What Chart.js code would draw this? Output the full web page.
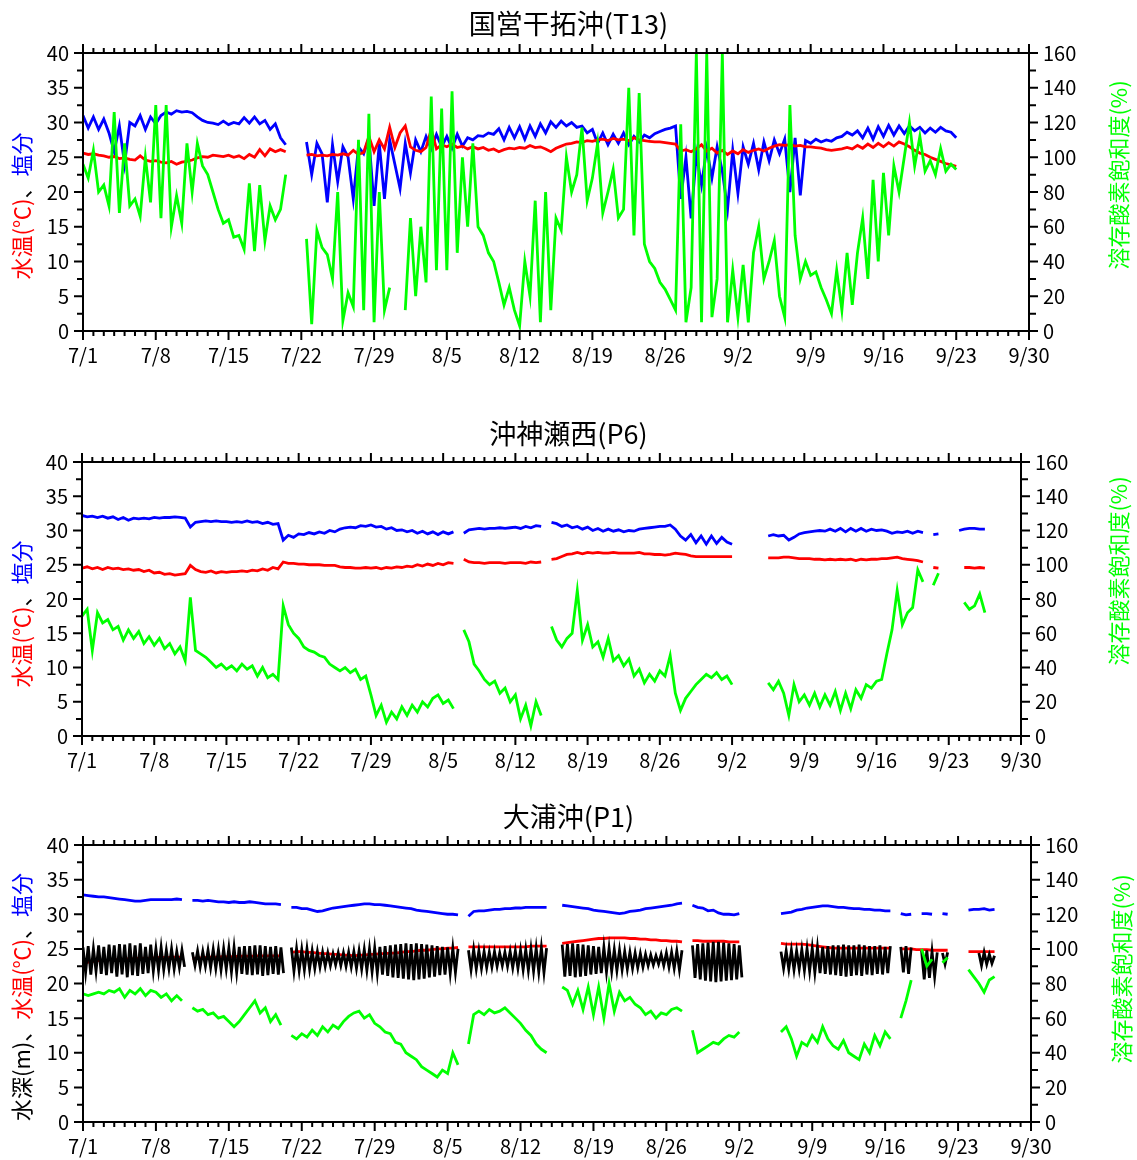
<!DOCTYPE html>
<html>
<head>
<meta charset="utf-8">
<script src="https://cdn.jsdelivr.net/npm/chart.js@4.4.0/dist/chart.umd.min.js"></script>
<style>
  body { margin: 0; background: #fff; }
  canvas { position: absolute; left: 0; }
</style>
</head>
<body>
<canvas id="chart_t13" width="1137" height="390" style="top:0px"></canvas>
<canvas id="chart_p6" width="1137" height="380" style="top:400px"></canvas>
<canvas id="chart_p1" width="1137" height="380" style="top:780px"></canvas>
<script>
// x axis: days since 7/1
const dateLabels = ['7/1','7/8','7/15','7/22','7/29','8/5','8/12','8/19','8/26','9/2','9/9','9/16','9/23','9/30'];
const halfDay = 0.5;
const quarterDay = 0.25;

// ---- 国営干拓沖(T13), one value every half day from 7/1 ----
const t13Temp = [
  25.6, 25.4, 25.5, 25.3, 25.2, 25.0, 25.1, 24.8, 24.9, 24.7,
  24.6, 25.2, 24.6, 24.4, 24.5, 24.3, 24.2, 24.4, 24.0, 24.3,
  24.4, 24.6, 24.9, 25.1, 25.0, 25.3, 25.2, 25.1, 25.3, 25.0,
  25.2, 24.8, 25.4, 25.0, 26.1, 25.2, 26.2, 25.8, 26.1, 25.8,
  null, null, null, 25.3, 25.4, 25.2, 25.3, 25.2, 25.4, 25.3,
  25.5, 25.3, 26.0, 25.4, 25.7, 28.0, 25.8, 27.5, 26.2, 29.3,
  26.4, 28.5, 29.5, 26.5, 26.0, 25.8, 26.4, 29.0, 26.2, 26.8,
  26.5, 26.9, 26.4, 26.6, 26.2, 26.5, 26.2, 26.4, 26.0, 26.2,
  25.8, 26.1, 26.3, 26.2, 26.4, 26.3, 26.7, 26.4, 26.5, 26.2,
  25.8, 26.3, 26.6, 26.9, 27.0, 27.2, 27.1, 27.4, 27.3, 27.5,
  27.6, 27.4, 27.7, 27.5, 27.6, 27.4, 27.8, 27.5, 27.4, 27.3,
  27.2, 27.2, 27.1, 27.0, 26.9, 25.9, 26.1, 25.8, 26.2, 26.8,
  25.9, 26.3, 25.6, 26.0, 25.4, 25.9, 25.5, 26.1, 25.7, 26.0,
  26.2, 25.9, 26.3, 26.6, 26.8, 26.7, 26.8, 26.6, 26.7, 26.5,
  26.5, 26.4, 26.3, 26.1, 26.0, 26.1, 26.2, 26.4, 26.2, 26.7,
  26.3, 26.9, 26.4, 27.0, 26.5, 27.1, 26.6, 27.2, 26.9, 26.5,
  26.0, 25.6, 25.4, 25.0, 24.7, 24.4, 24.1, 23.9, 23.7
];
const t13Sal = [
  31.0, 29.2, 30.8, 29.0, 30.5, 28.5, 25.8, 29.5, 24.0, 30.0,
  29.5, 31.0, 29.0, 30.8, 29.8, 31.0, 31.5, 31.2, 31.7, 31.5,
  31.6, 31.4, 30.8, 30.3, 30.0, 29.9, 29.7, 30.2, 29.7, 30.0,
  29.8, 30.7, 29.9, 30.8, 29.8, 30.3, 29.0, 29.8, 27.8, 26.8,
  null, null, null, 27.2, 22.5, 27.0, 25.5, 18.5, 26.8, 21.5,
  26.5, 25.0, 19.0, 26.5, 25.5, 27.8, 18.0, 27.0, 19.0, 27.5,
  24.0, 20.5, 27.0, 22.7, 27.5, 25.8, 28.0, 26.2, 28.3, 26.5,
  28.0, 26.3, 28.3, 26.6, 27.8, 27.5, 28.1, 28.0, 28.5, 28.3,
  29.1, 27.5, 29.3, 27.8, 29.4, 27.6, 29.5, 28.0, 29.8, 28.5,
  30.1, 29.3, 30.2, 29.5, 30.0, 29.3, 29.5, 28.5, 29.0, 27.0,
  28.5, 26.8, 28.3, 27.0, 28.5, 26.8, 28.0, 27.2, 28.2, 27.8,
  28.4, 28.7, 29.0, 29.2, 29.5, 19.0, 25.0, 16.2, 25.5, 21.0,
  26.2, 22.0, 26.5, 23.0, 17.5, 26.0, 19.8, 26.5, 24.0, 27.0,
  23.2, 27.2, 24.5, 27.5, 25.5, 27.6, 20.0, 27.8, 19.5, 27.4,
  27.0, 27.6, 27.2, 27.5, 27.3, 27.8, 28.0, 28.6, 28.2, 28.8,
  27.8, 29.2, 27.6, 29.4, 28.0, 29.6, 28.2, 29.5, 28.4, 29.5,
  28.8, 29.3, 28.5, 29.2, 28.6, 29.3, 28.8, 28.6, 27.8
];
const t13DO = [
  96, 88, 104, 80, 84, 72, 126, 68, 108, 72,
  76, 66, 100, 74, 130, 65, 130, 60, 78, 62,
  108, 80, 108, 95, 90, 80, 70, 62, 64, 54,
  55, 47, 85, 46, 84, 52, 72, 64, 70, 90,
  null, null, null, 53, 4, 58, 48, 44, 30, 80,
  6, 22, 14, 110, 12, 125, 5, 80, 12, 25,
  null, null, 12, 65, 20, 60, 28, 135, 35, 128,
  35, 138, 45, 100, 60, 108, 60, 55, 45, 40,
  28, 15, 25, 12, 3, 40, 20, 75, 5, 80,
  12, 65, 58, 100, 80, 90, 117, 75, 88, 108,
  68, 80, 93, 65, 70, 140, 55, 137, 50, 40,
  36, 28, 24, 18, 12, 119, 5, 25, 160, 5,
  160, 8, 30, 160, 5, 35, 8, 38, 5, 45,
  60, 30, 40, 52, 20, 8, 130, 55, 30, 40,
  32, 34, 25, 18, 10, 35, 12, 45, 15, 45,
  65, 30, 87, 40, 91, 55, 95, 80, 100, 120,
  95, 112, 92, 98, 90, 105, 92, 96, 93
];

// ---- 沖神瀬西(P6), one value every half day from 7/1 ----
const p6Temp = [
  24.5, 24.7, 24.4, 24.6, 24.3, 24.6, 24.4, 24.5, 24.3, 24.4,
  24.2, 24.3, 24.0, 24.2, 23.8, 23.9, 23.6, 23.7, 23.5, 23.6,
  23.7, 24.9, 24.3, 24.0, 23.9, 24.1, 23.8, 24.0, 23.9, 24.0,
  24.0, 24.1, 24.0, 24.2, 24.1, 24.4, 24.2, 24.6, 24.4, 25.4,
  25.2, 25.2, 25.1, 25.1, 25.0, 25.0, 25.0, 24.9, 24.9, 24.9,
  24.7, 24.6, 24.6, 24.5, 24.5, 24.6, 24.5, 24.6, 24.4, 24.6,
  24.5, 24.7, 24.6, 24.8, 24.7, 25.0, 24.8, 25.1, 24.9, 25.2,
  25.0, 25.3, 25.2, null, 25.8, 25.4, 25.3, 25.3, 25.2, 25.3,
  25.3, 25.3, 25.2, 25.3, 25.3, 25.3, 25.2, 25.4, 25.3, 25.4,
  null, 25.8, 25.9, 26.2, 26.5, 26.6, 26.8, 26.6, 26.8, 26.7,
  26.8, 26.7, 26.7, 26.8, 26.7, 26.7, 26.7, 26.7, 26.8, 26.6,
  26.6, 26.5, 26.5, 26.4, 26.5, 26.7, 26.6, 26.5, 26.3, 26.2,
  26.2, 26.2, 26.2, 26.2, 26.2, 26.2, 26.2, null, null, null,
  null, null, null, 26.0, 26.0, 26.0, 26.1, 26.1, 26.0, 25.9,
  25.9, 25.9, 25.8, 25.8, 25.7, 25.8, 25.7, 25.8, 25.7, 25.8,
  25.6, 25.8, 25.7, 25.8, 25.8, 25.9, 25.9, 26.0, 26.1, 25.9,
  25.8, 25.7, 25.6, 25.4, null, 24.6, 24.5, null, null, null,
  null, 24.6, 24.6, 24.5, 24.6, 24.5
];
const p6Sal = [
  32.2, 32.0, 32.1, 31.9, 32.1, 31.8, 32.0, 31.6, 31.9, 31.5,
  31.8, 31.7, 31.8, 31.7, 31.9, 31.8, 31.9, 31.9, 32.0, 31.9,
  31.8, 30.5, 31.2, 31.3, 31.4, 31.3, 31.4, 31.3, 31.3, 31.2,
  31.3, 31.2, 31.4, 31.2, 31.3, 31.0, 31.2, 30.9, 31.0, 28.6,
  29.3, 29.0, 29.5, 29.4, 29.7, 29.5, 29.8, 29.6, 30.0, 29.8,
  30.2, 30.4, 30.5, 30.4, 30.7, 30.6, 30.8, 30.5, 30.6, 30.2,
  30.4, 30.0, 30.1, 29.8, 30.0, 29.6, 29.9, 29.5, 29.8, 29.4,
  29.8, 29.5, 29.8, null, 29.6, 30.1, 30.2, 30.3, 30.2, 30.3,
  30.3, 30.4, 30.3, 30.4, 30.5, 30.3, 30.6, 30.4, 30.7, 30.6,
  null, 31.2, 31.0, 30.6, 30.8, 30.4, 30.6, 30.2, 30.5, 30.0,
  30.3, 29.9, 30.2, 29.9, 30.1, 29.8, 30.0, 29.9, 30.2, 30.3,
  30.4, 30.5, 30.6, 30.6, 30.8, 30.2, 29.2, 28.6, 29.4, 28.2,
  29.2, 28.0, 29.2, 28.1, 29.0, 28.3, 28.0, null, null, null,
  null, null, null, 29.2, 29.4, 29.2, 29.3, 28.6, 29.0, 29.5,
  29.7, 29.8, 29.9, 30.0, 29.9, 30.2, 29.9, 30.3, 29.8, 30.3,
  29.9, 30.3, 29.9, 30.2, 30.0, 30.1, 29.9, 29.6, 29.8, 29.7,
  29.9, 29.6, 29.9, 29.7, null, 29.4, 29.5, null, null, null,
  30.0, 30.2, 30.3, 30.3, 30.2, 30.2
];
const p6DO = [
  70, 74, 50, 72, 66, 68, 62, 64, 56, 62,
  57, 61, 54, 58, 53, 57, 51, 54, 48, 52,
  44, 81, 50, 48, 46, 43, 40, 42, 39, 41,
  38, 42, 39, 41, 35, 40, 34, 36, 33, 76,
  65, 60, 57, 52, 50, 49, 47, 46, 42, 40,
  38, 40, 37, 39, 33, 35, 24, 12, 18, 8,
  14, 10, 17, 12, 18, 14, 20, 17, 22, 24,
  19, 21, 16, null, 62, 55, 42, 38, 33, 30,
  32, 25, 28, 20, 24, 10, 18, 6, 20, 12,
  null, 64, 56, 52, 57, 60, 85, 56, 65, 52,
  55, 46, 57, 44, 47, 41, 45, 35, 39, 31,
  36, 32, 38, 35, 47, 25, 15, 22, 26, 30,
  33, 36, 34, 37, 33, 35, 30, null, null, null,
  null, null, null, 31, 27, 32, 25, 12, 30, 20,
  24, 18, 25, 17, 24, 18, 26, 15, 25, 16,
  27, 22, 30, 28, 32, 33, 48, 62, 85, 65,
  72, 75, 97, 90, null, 88, 95, null, null, null,
  null, 78, 74, 76, 83, 72
];

// ---- 大浦沖(P1), half day steps except depth (quarter day) ----
const p1Temp = [
  22.9, 23.1, 23.2, 23.3, 23.3, 23.4, 23.4, 23.5, 23.5, 23.6,
  23.6, 23.7, 23.6, 23.7, 23.7, 23.8, 23.7, 23.8, 23.8, 23.8,
  null, 23.6, 23.7, 23.7, 23.8, 23.8, 23.8, 23.9, 23.8, 23.9,
  23.9, 24.0, 23.9, 24.0, 24.0, 24.0, 24.0, 24.0, 24.0, null,
  24.5, 24.6, 24.6, 24.5, 24.5, 24.4, 24.3, 24.3, 24.2, 24.2,
  24.1, 24.1, 24.0, 24.1, 24.1, 24.2, 24.2, 24.3, 24.3, 24.4,
  24.4, 24.5, 24.6, 24.6, 24.7, 24.8, 24.8, 24.9, 25.0, 25.0,
  25.1, 25.1, 25.2, null, 25.3, 25.3, 25.3, 25.3, 25.3, 25.3,
  25.3, 25.3, 25.3, 25.3, 25.3, 25.3, 25.4, 25.4, 25.4, 25.4,
  null, null, 25.8, 25.9, 26.0, 26.1, 26.2, 26.3, 26.4, 26.5,
  26.5, 26.6, 26.6, 26.6, 26.6, 26.5, 26.5, 26.4, 26.4, 26.3,
  26.3, 26.2, 26.2, 26.1, 26.1, 26.0, null, 26.2, 26.2, 26.1,
  26.1, 26.1, 26.1, 26.1, 26.0, 26.0, 26.0, null, null, null,
  null, null, null, null, 25.8, 25.7, 25.7, 25.7, 25.7, 25.6,
  25.5, 25.4, 25.3, 25.2, 25.1, 25.1, 25.1, 25.1, 25.1, 25.1,
  25.1, 25.1, 25.1, 25.1, 25.1, 25.1, null, 25.0, 25.0, 25.0,
  24.9, 24.9, 24.9, 24.8, 24.8, 24.8, 24.8, null, null, null,
  24.6, 24.6, 24.6, 24.6, 24.6, 24.6
];
const p1Sal = [
  32.8, 32.7, 32.6, 32.5, 32.5, 32.4, 32.3, 32.2, 32.1, 32.0,
  31.9, 31.9, 32.0, 32.1, 32.1, 32.1, 32.1, 32.1, 32.2, 32.1,
  null, 32.0, 32.0, 31.9, 32.0, 31.9, 31.8, 31.8, 31.7, 31.8,
  31.7, 31.7, 31.8, 31.7, 31.6, 31.5, 31.5, 31.5, 31.4, null,
  31.0, 31.0, 30.8, 30.8, 30.6, 30.4, 30.5, 30.7, 30.9, 31.0,
  31.1, 31.2, 31.3, 31.4, 31.5, 31.5, 31.4, 31.4, 31.3, 31.2,
  31.1, 31.0, 30.9, 30.8, 30.6, 30.5, 30.4, 30.3, 30.2, 30.1,
  30.0, 30.0, 29.9, null, 29.7, 30.4, 30.5, 30.5, 30.6, 30.7,
  30.7, 30.8, 30.8, 30.9, 30.9, 31.0, 31.0, 31.0, 31.0, 31.0,
  null, null, 31.3, 31.2, 31.1, 31.0, 30.9, 30.8, 30.6, 30.5,
  30.4, 30.3, 30.2, 30.1, 30.2, 30.4, 30.5, 30.6, 30.8, 30.9,
  31.0, 31.1, 31.2, 31.3, 31.5, 31.6, null, 31.3, 31.0, 30.9,
  30.5, 30.6, 30.2, 30.0, 30.0, 29.9, 30.1, null, null, null,
  null, null, null, null, 30.1, 30.2, 30.3, 30.6, 30.7, 30.9,
  31.0, 31.1, 31.2, 31.2, 31.1, 31.0, 31.0, 30.9, 30.8, 30.8,
  30.7, 30.7, 30.6, 30.6, 30.5, 30.5, null, 30.1, 29.9, 30.0,
  null, 30.1, 30.1, 30.0, null, 30.1, 30.0, null, null, null,
  30.6, 30.7, 30.7, 30.8, 30.6, 30.7
];
const p1DO = [
  74, 73, 74, 75, 74, 76, 75, 77, 72, 76,
  74, 77, 73, 76, 75, 72, 74, 70, 73, 70,
  null, 66, 64, 65, 62, 63, 60, 61, 58, 55,
  58, 62, 66, 70, 63, 66, 58, 62, 56, null,
  50, 48, 51, 49, 53, 50, 55, 52, 56, 54,
  58, 61, 63, 64, 60, 62, 57, 55, 52, 51,
  46, 45, 40, 38, 36, 32, 30, 28, 26, 30,
  28, 40, 33, null, 45, 62, 64, 62, 65, 63,
  64, 66, 63, 60, 57, 53, 50, 45, 42, 40,
  null, null, 78, 76, 68, 76, 65, 78, 62, 78,
  60, 80, 64, 75, 70, 72, 68, 66, 62, 64,
  60, 63, 62, 65, 66, 64, null, 53, 40, 42,
  44, 46, 45, 48, 50, 49, 52, null, null, null,
  null, null, null, null, 52, 55, 48, 38, 46, 44,
  50, 46, 55, 48, 44, 42, 47, 40, 38, 36,
  45, 40, 50, 44, 52, 48, null, 60, 70, 82,
  null, 100, 90, 94, null, 92, 95, null, null, null,
  88, 84, 80, 75, 82, 84
];
// water depth, 4 readings a day
const p1Depth = [
  25.2, 21.6, 25.4, 21.3,  25.0, 21.8, 25.5, 21.4,  25.3, 21.2, 25.6, 21.5,
  25.5, 21.0, 25.7, 21.3,  25.6, 20.9, 25.8, 21.2,  25.5, 21.1, 25.8, 21.4,
  25.3, 21.5, 25.6, 21.8,  25.0, 21.9, 25.2, 22.0,  24.8, 22.2, 25.0, 22.1,
  24.6, 22.3, 24.8, 22.4,  null, null, 24.5, 22.6,  24.7, 22.4, 24.6, 22.5,
  24.8, 22.3, 24.9, 22.2,  24.9, 22.0, 25.0, 22.1,  25.1, 21.7, 25.2, 21.6,
  25.3, 21.4, 25.4, 21.3,  25.4, 21.2, 25.5, 21.3,  25.5, 21.1, 25.4, 21.2,
  25.3, 21.4, 25.4, 21.3,  25.2, 21.5, null, null,  25.2, 21.8, 25.0, 21.9,
  24.9, 22.0, 25.0, 22.1,  24.7, 22.2, 24.6, 22.4,  24.5, 22.5, 24.4, 22.6,
  24.3, 22.7, 24.4, 22.6,  24.4, 22.5, 24.5, 22.4,  24.6, 22.2, 24.7, 22.1,
  24.9, 21.9, 25.0, 21.7,  25.1, 21.5, 25.3, 21.3,  25.4, 21.1, 25.5, 20.9,
  25.6, 20.8, 25.7, 20.7,  25.8, 20.6, 25.7, 20.5,  25.8, 20.6, 25.7, 20.7,
  25.6, 20.9, 25.5, 21.0,  25.4, 21.2, 25.3, 21.3,  25.2, 21.5, 25.1, 21.6,
  25.0, null, null, null,  24.8, 22.0, 24.9, 22.1,  24.7, 22.2, 24.6, 22.3,
  24.5, 22.4, 24.6, 22.5,  24.4, 22.6, 24.5, 22.5,  24.6, 22.3, 24.7, 22.2,
  24.8, 22.0, 24.9, 21.9,  25.0, 21.8, 25.1, 21.7,  25.2, 21.6, 25.1, null,
  null, null, null, null,  25.6, 21.0, 25.7, 21.1,  25.8, 20.9, 25.7, 21.0,
  25.6, 21.1, 25.5, 21.3,  25.4, 21.4, 25.3, 21.5,  25.2, 21.7, 25.1, 21.8,
  24.9, 21.9, 24.8, 22.0,  24.6, 22.1, 24.5, 22.2,  24.4, 22.3, 24.3, 22.4,
  24.2, 22.6, 24.1, 22.7,  24.0, 22.8, 24.2, 22.6,  24.4, 22.4, 24.5, 22.2,
  24.7, 22.0, 24.8, null,  null, null, 25.5, 20.8,  25.7, 20.6, 25.8, 20.4,
  25.9, 20.3, 26.0, 20.2,  26.0, 20.3, 25.9, 20.4,  25.8, 20.5, 25.7, 20.6,
  25.5, 20.9, null, null,  null, null, null, null,  null, null, null, null,
  null, null, null, null,  24.6, 22.2, 24.7, 22.1,  24.8, 22.0, 24.7, 22.1,
  24.9, 21.9, 25.0, 21.8,  25.1, 21.6, 25.2, 21.5,  25.3, 21.4, 25.4, 21.3,
  25.5, 21.2, 25.5, 21.1,  25.6, 21.0, 25.5, 21.1,  25.5, 21.2, 25.6, 21.1,
  25.5, 21.3, 25.4, 21.2,  25.4, 21.4, 25.5, 21.3,  25.3, 21.5, 25.4, null,
  null, null, 25.3, 21.6,  25.4, 21.4, 25.2, null,  null, null, 24.7, 20.6,
  24.8, 20.8, 24.6, 21.0,  24.5, null, 24.4, 22.8,  24.5, null, null, null,
  null, null, null, null,  null, null, null, null,  24.4, 22.6, 24.5, 22.8,
  24.2, 22.9, 24.0
];

const RED = '#ff0000', BLUE = '#0000ff', GREEN = '#00ff00', BLACK = '#000000';
const fontFamily = '"Noto Sans CJK JP", "Noto Sans", sans-serif';

function makeSeries(values, step, color, axis) {
  return {
    data: values.map((v, i) => ({ x: i * step, y: v })),
    borderColor: color,
    backgroundColor: color,
    yAxisID: axis,
    borderWidth: 2.8,
    pointRadius: 0,
    tension: 0,
    spanGaps: false,
    fill: false
  };
}

// frame, major/minor ticks, title and coloured axis titles
const panelDecor = {
  id: 'panelDecor',
  afterDraw(chart, args, opts) {
    const ctx = chart.ctx;
    const a = chart.chartArea;
    const sx = chart.scales.x, sy = chart.scales.y, sy2 = chart.scales.y2;
    ctx.save();
    ctx.strokeStyle = '#000';
    ctx.lineWidth = 2;
    ctx.strokeRect(a.left, a.top, a.right - a.left, a.bottom - a.top);
    ctx.beginPath();
    for (let d = 0; d <= 91; d++) {
      const px = sx.getPixelForValue(d);
      const len = d % 7 === 0 ? 9 : 5;
      ctx.moveTo(px, a.top); ctx.lineTo(px, a.top - len);
      ctx.moveTo(px, a.bottom); ctx.lineTo(px, a.bottom + len);
    }
    for (let v = 0; v <= 40; v += 2.5) {
      const py = sy.getPixelForValue(v);
      ctx.moveTo(a.left, py); ctx.lineTo(a.left - (v % 5 === 0 ? 9 : 6), py);
    }
    for (let v = 0; v <= 160; v += 10) {
      const py = sy2.getPixelForValue(v);
      ctx.moveTo(a.right, py); ctx.lineTo(a.right + (v % 20 === 0 ? 9 : 7), py);
    }
    ctx.stroke();

    ctx.fillStyle = '#000';
    ctx.font = '27px ' + fontFamily;
    ctx.textAlign = 'center';
    ctx.textBaseline = 'middle';
    ctx.fillText(opts.title, chart.width / 2, opts.titleY);

    drawRotated(ctx, opts.leftParts, opts.leftX, opts.leftY);
    drawRotated(ctx, [['溶存酸素飽和度(%)', GREEN]], opts.rightX, opts.rightY);
    ctx.restore();
  }
};

function drawRotated(ctx, parts, cx, cy) {
  ctx.save();
  ctx.font = '22px ' + fontFamily;
  ctx.translate(cx, cy);
  ctx.rotate(-Math.PI / 2);
  ctx.textAlign = 'left';
  ctx.textBaseline = 'middle';
  let total = 0;
  parts.forEach(p => { total += ctx.measureText(p[0]).width; });
  let x = -total / 2;
  parts.forEach(p => {
    ctx.fillStyle = p[1];
    ctx.fillText(p[0], x, 0);
    x += ctx.measureText(p[0]).width;
  });
  ctx.restore();
}

function makeChart(id, panel) {
  const tickFont = { family: fontFamily, size: 20 };
  return new Chart(document.getElementById(id), {
    type: 'line',
    data: { datasets: panel.datasets },
    options: {
      responsive: false,
      animation: false,
      devicePixelRatio: 1,
      events: [],
      layout: { padding: { top: panel.top, bottom: 0, left: 0, right: 0 } },
      plugins: {
        legend: { display: false },
        tooltip: { enabled: false },
        panelDecor: panel.decor
      },
      scales: {
        x: {
          type: 'linear', position: 'bottom', min: 0, max: 91,
          grid: { display: false, drawTicks: false },
          border: { display: false },
          ticks: {
            stepSize: 7, autoSkip: false, maxRotation: 0, padding: 12,
            color: '#000', font: tickFont,
            callback: v => dateLabels[Math.round(v / 7)]
          },
          afterFit: s => { s.height = panel.xHeight; }
        },
        y: {
          position: 'left', min: 0, max: 40,
          grid: { display: false, drawTicks: false },
          border: { display: false },
          ticks: { stepSize: 5, padding: 14, color: '#000', font: tickFont },
          afterFit: s => { s.width = panel.left; }
        },
        y2: {
          position: 'right', min: 0, max: 160,
          grid: { display: false, drawTicks: false },
          border: { display: false },
          ticks: { stepSize: 20, padding: 14, color: '#000', font: tickFont },
          afterFit: s => { s.width = 1137 - panel.right; }
        }
      }
    },
    plugins: [panelDecor]
  });
}

makeChart('chart_t13', {
  top: 53, xHeight: 59, left: 83, right: 1029,
  datasets: [
    makeSeries(t13DO, halfDay, GREEN, 'y2'),
    makeSeries(t13Temp, halfDay, RED, 'y'),
    makeSeries(t13Sal, halfDay, BLUE, 'y')
  ],
  decor: {
    title: '国営干拓沖(T13)', titleY: 24,
    leftParts: [['水温(℃)', RED], ['、', BLACK], ['塩分', BLUE]],
    leftX: 22, leftY: 206, rightX: 1119, rightY: 175
  }
});

makeChart('chart_p6', {
  top: 62, xHeight: 44, left: 82, right: 1021,
  datasets: [
    makeSeries(p6DO, halfDay, GREEN, 'y2'),
    makeSeries(p6Temp, halfDay, RED, 'y'),
    makeSeries(p6Sal, halfDay, BLUE, 'y')
  ],
  decor: {
    title: '沖神瀬西(P6)', titleY: 34,
    leftParts: [['水温(℃)', RED], ['、', BLACK], ['塩分', BLUE]],
    leftX: 22, leftY: 214, rightX: 1119, rightY: 171
  }
});

makeChart('chart_p1', {
  top: 65, xHeight: 38, left: 83, right: 1031,
  datasets: [
    makeSeries(p1DO, halfDay, GREEN, 'y2'),
    makeSeries(p1Depth, quarterDay, BLACK, 'y'),
    makeSeries(p1Temp, halfDay, RED, 'y'),
    makeSeries(p1Sal, halfDay, BLUE, 'y')
  ],
  decor: {
    title: '大浦沖(P1)', titleY: 37,
    leftParts: [['水深(m)、', BLACK], ['水温(℃)', RED], ['、', BLACK], ['塩分', BLUE]],
    leftX: 22, leftY: 217, rightX: 1122, rightY: 189
  }
});
</script>
</body>
</html>
